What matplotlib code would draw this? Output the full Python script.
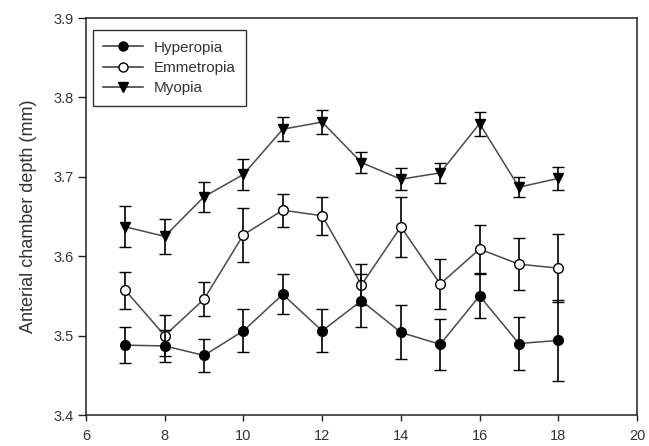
import matplotlib
matplotlib.use("Agg")
import matplotlib.pyplot as plt
from matplotlib.lines import Line2D

plt.rcParams['font.family'] = ['Liberation Sans', 'DejaVu Sans']

ages = [7, 8, 9, 10, 11, 12, 13, 14, 15, 16, 17, 18]
hyperopia = [3.488, 3.487, 3.475, 3.506, 3.552, 3.506, 3.544, 3.504, 3.489, 3.550, 3.490, 3.494]
hyperopia_err = [0.023, 0.020, 0.021, 0.027, 0.025, 0.027, 0.033, 0.034, 0.032, 0.028, 0.033, 0.051]
emmetropia = [3.557, 3.500, 3.546, 3.627, 3.658, 3.651, 3.564, 3.637, 3.565, 3.609, 3.590, 3.585]
emmetropia_err = [0.023, 0.026, 0.021, 0.034, 0.021, 0.024, 0.026, 0.038, 0.031, 0.030, 0.033, 0.043]
myopia = [3.637, 3.625, 3.675, 3.703, 3.760, 3.769, 3.718, 3.697, 3.705, 3.767, 3.687, 3.698]
myopia_err = [0.026, 0.022, 0.019, 0.020, 0.015, 0.015, 0.013, 0.014, 0.013, 0.015, 0.013, 0.014]

series_names = ["Hyperopia", "Emmetropia", "Myopia"]
xticks = [6, 8, 10, 12, 14, 16, 18, 20]
yticks = [3.4, 3.5, 3.6, 3.7, 3.8, 3.9]
ylabel = "Anterial chamber depth (mm)"

txt = '#333333'
fig = plt.figure(figsize=(6.49, 4.46), dpi=100)
ax = fig.add_axes([0.1325, 0.0695, 0.849, 0.890])

common = dict(ecolor='black', elinewidth=1.2, capsize=4.5, capthick=1.2,
              color='#4a4a4a', lw=1.1, markersize=7, markeredgecolor='black',
              markeredgewidth=1.0)

ax.errorbar(ages, hyperopia, yerr=hyperopia_err, fmt='-o',
            markerfacecolor='black', zorder=3, **common)
ax.errorbar(ages, emmetropia, yerr=emmetropia_err, fmt='-o',
            markerfacecolor='white', zorder=2, **common)
ax.errorbar(ages, myopia, yerr=myopia_err, fmt='-v',
            markerfacecolor='black', zorder=1, **common)

ax.set_xlim(6, 20)
ax.set_ylim(3.4, 3.9)
ax.set_xticks(xticks)
ax.set_yticks(yticks)
ax.set_xticklabels([str(t) for t in xticks])
ax.set_yticklabels([f"{t:.1f}" for t in yticks])
ax.tick_params(axis='both', direction='out', labelsize=10.5, labelcolor=txt,
               width=1.0, color='#222222')
ax.tick_params(axis='y', length=6, pad=3)
ax.tick_params(axis='x', length=4, pad=6)
for s in ax.spines.values():
    s.set_linewidth(1.1)
    s.set_color('#222222')
ax.set_ylabel(ylabel, fontsize=13, color=txt, labelpad=12)

handles = [
    Line2D([], [], color='#333333', lw=1.1, marker='o', markersize=6.5,
           markerfacecolor='black', markeredgecolor='black'),
    Line2D([], [], color='#333333', lw=1.1, marker='o', markersize=6.5,
           markerfacecolor='white', markeredgecolor='black'),
    Line2D([], [], color='#333333', lw=1.1, marker='v', markersize=6.5,
           markerfacecolor='black', markeredgecolor='black'),
]
leg = ax.legend(handles=handles, labels=series_names, loc='upper left',
                bbox_to_anchor=(0.012, 0.97), fontsize=11, frameon=True,
                fancybox=False, edgecolor='black', handlelength=2.6,
                handletextpad=0.7, borderpad=0.7, labelspacing=0.42,
                borderaxespad=0.0)
leg.get_frame().set_linewidth(1.0)
for t in leg.get_texts():
    t.set_color(txt)

fig.savefig("out.png", dpi=100)
